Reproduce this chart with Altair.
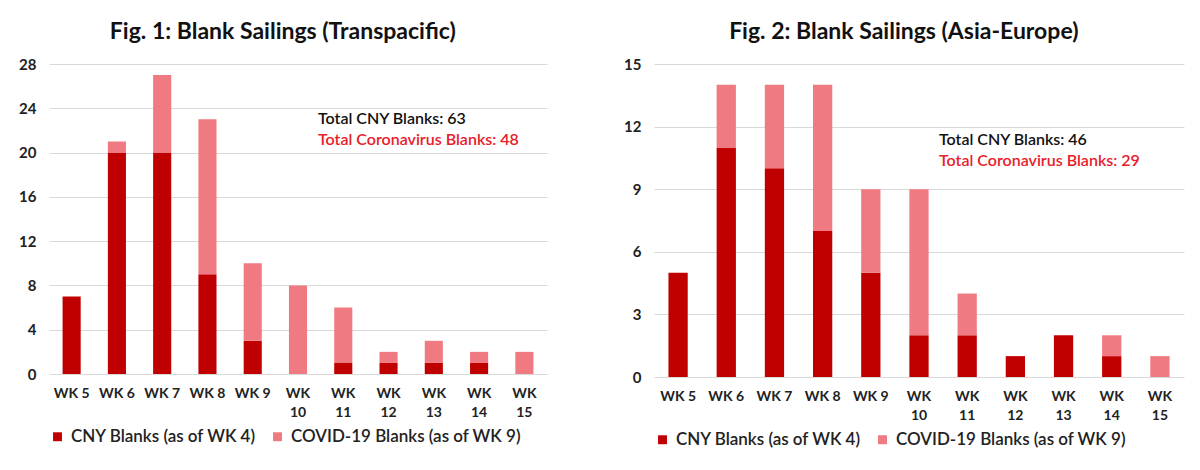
import altair as alt
import pandas as pd

weeks = ["WK 5", "WK 6", "WK 7", "WK 8", "WK 9", "WK 10", "WK 11", "WK 12", "WK 13", "WK 14", "WK 15"]
tp_cny = [7, 20, 20, 9, 3, 0, 1, 1, 1, 1, 0]
tp_covid = [0, 1, 7, 14, 7, 8, 5, 1, 2, 1, 2]
ae_cny = [5, 11, 10, 7, 5, 2, 2, 1, 2, 1, 0]
ae_covid = [0, 3, 4, 7, 4, 7, 2, 0, 0, 1, 1]
series = ["CNY Blanks (as of WK 4)", "COVID-19 Blanks (as of WK 9)"]
colors = ["#c00000", "#f07a82"]

FONT = "Lato"


def long_df(cny, covid):
    rows = []
    for w, a, b in zip(weeks, cny, covid):
        rows.append({"week": w, "series": series[0], "value": a, "ord": 0})
        rows.append({"week": w, "series": series[1], "value": b, "ord": 1})
    return pd.DataFrame(rows)


def panel(title, cny, covid, ymax, ystep, w, h, ann_y1, ann_y2):
    df = long_df(cny, covid)
    bars = alt.Chart(df).mark_bar().encode(
        x=alt.X(
            "week:N", sort=weeks, title=None,
            scale=alt.Scale(paddingInner=0.6, paddingOuter=0.3),
            axis=alt.Axis(
                labelAngle=0,
                labelExpr="length(datum.label) > 4 ? split(datum.label, ' ') : datum.label",
                domain=False, ticks=False, labelFontSize=14, labelFontWeight="bold",
                labelFont=FONT, labelColor="#222222", labelPadding=12, labelLineHeight=19,
            ),
        ),
        y=alt.Y(
            "value:Q", stack="zero", title=None,
            scale=alt.Scale(domain=[0, ymax], nice=False),
            axis=alt.Axis(
                values=list(range(0, ymax + 1, ystep)), domain=False, ticks=False,
                gridColor="#d9d9d9", labelFontSize=15, labelFontWeight="bold",
                labelFont=FONT, labelColor="#222222", labelPadding=13,
            ),
        ),
        color=alt.Color(
            "series:N", scale=alt.Scale(domain=series, range=colors),
            legend=alt.Legend(
                title=None, orient="bottom", direction="horizontal", labelFontSize=17,
                labelFont=FONT, labelFontWeight=600, labelColor="#222222",
                symbolType="square", symbolSize=80, symbolStrokeWidth=0, columnPadding=12,
                labelLimit=400, offset=9, labelOffset=5,
            ),
        ),
        order=alt.Order("ord:Q"),
    )
    t1 = alt.Chart(pd.DataFrame({"t": [f"Total CNY Blanks: {sum(cny)}"]})).mark_text(
        align="left", baseline="middle", fontSize=16, fontWeight=600, font=FONT,
        color="#111111", dx=20,
    ).encode(x=alt.datum("WK 10"), y=alt.datum(ann_y1), text="t:N")
    t2 = alt.Chart(pd.DataFrame({"t": [f"Total Coronavirus Blanks: {sum(covid)}"]})).mark_text(
        align="left", baseline="middle", fontSize=16, fontWeight=600, font=FONT,
        color="#e8202a", dx=20,
    ).encode(x=alt.datum("WK 10"), y=alt.datum(ann_y2), text="t:N")
    return alt.layer(bars, t1, t2).properties(
        width=w, height=h,
        title=alt.TitleParams(
            title, fontSize=23, font=FONT, fontWeight="bold", anchor="middle",
            frame="bounds", offset=13, color="#111111",
        ),
    )


left = panel("Fig. 1: Blank Sailings (Transpacific)", tp_cny, tp_covid, 28, 4, 498, 310, 23.0, 21.1)
right = panel("Fig. 2: Blank Sailings (Asia-Europe)", ae_cny, ae_covid, 15, 3, 530, 313, 11.35, 10.35)

chart = alt.hconcat(left, right, spacing=76).resolve_scale(color="independent").resolve_legend(
    color="independent"
).configure_view(stroke=None).properties(padding={"left": 10, "top": 13, "right": 5, "bottom": 5})

chart.save("out.html", embed_options={"renderer": "svg", "actions": False})
